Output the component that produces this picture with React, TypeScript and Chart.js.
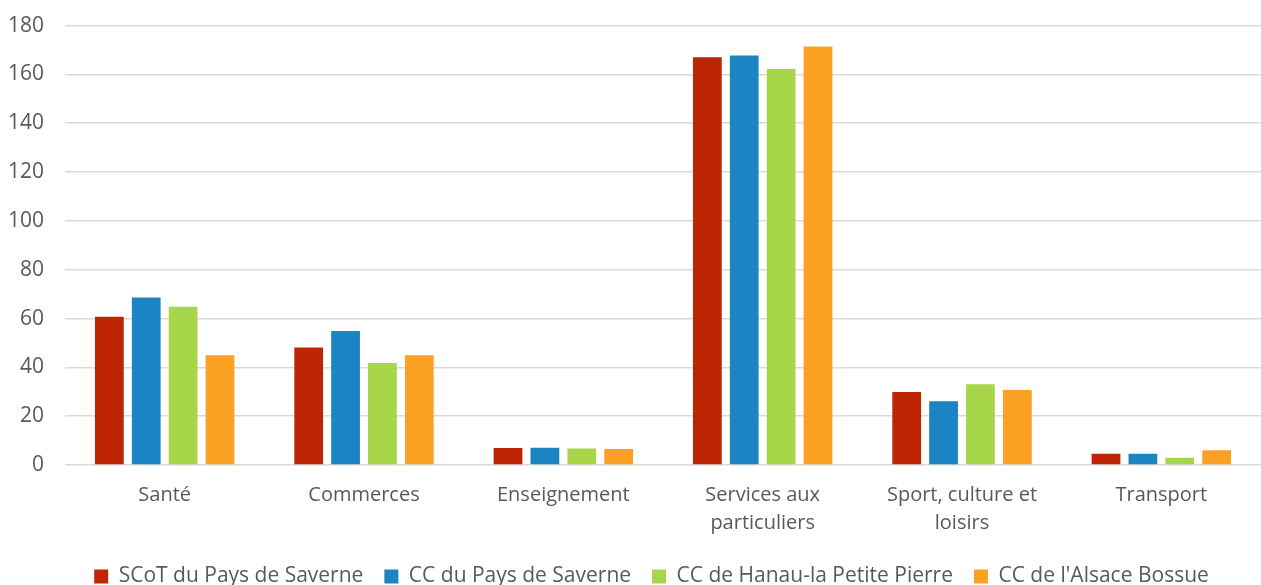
import React, { useEffect, useRef } from "react";
import { Chart, registerables } from "chart.js";

Chart.register(...registerables);

const categories: (string | string[])[] = [
  "Santé",
  "Commerces",
  "Enseignement",
  ["Services aux", "particuliers"],
  ["Sport, culture et", "loisirs"],
  "Transport",
];

const seriesNames = [
  "SCoT du Pays de Saverne",
  "CC du Pays de Saverne",
  "CC de Hanau-la Petite Pierre",
  "CC de l'Alsace Bossue",
];

const scotValues = [60.7, 48.1, 7.0, 167.0, 29.9, 4.6];
const ccSaverneValues = [68.6, 54.9, 7.1, 167.8, 26.1, 4.6];
const ccHanauValues = [64.8, 41.8, 6.8, 162.2, 33.1, 3.0];
const ccAlsaceValues = [45.0, 45.0, 6.6, 171.4, 30.7, 6.0];

const colors = ["#BE2504", "#1A85C2", "#A7D649", "#FDA125"];

const yTicks = { min: 0, max: 180, step: 20 };

const CANVAS_H = 605;
const CANVAS_TOP = -8;
const LEGEND_SHIFT = 18;

const legendShift = {
  id: "legendShift",
  afterLayout(chart: any) {
    if (chart.legend) {
      chart.legend.left += LEGEND_SHIFT;
      chart.legend.right += LEGEND_SHIFT;
    }
  },
};

export default function App() {
  const ref = useRef<HTMLCanvasElement>(null);
  useEffect(() => {
    if (!ref.current) return;
    const values = [scotValues, ccSaverneValues, ccHanauValues, ccAlsaceValues];
    const font = "'Open Sans', 'Noto Sans', sans-serif";
    const chart = new Chart(ref.current, {
      type: "bar",
      data: {
        labels: categories,
        datasets: values.map((v, i) => ({
          label: seriesNames[i],
          data: v,
          backgroundColor: colors[i],
          borderWidth: 0,
          barPercentage: 0.78,
          categoryPercentage: 0.74,
        })),
      },
      plugins: [legendShift],
      options: {
        animation: false,
        responsive: false,
        maintainAspectRatio: false,
        layout: { padding: { left: 6, right: 0, top: 5, bottom: 0 } },
        plugins: {
          tooltip: { enabled: false },
          legend: {
            position: "bottom",
            labels: {
              boxWidth: 14,
              boxHeight: 14,
              padding: 21,
              color: "#595959",
              font: { family: font, size: 21 },
            },
          },
        },
        scales: {
          x: {
            grid: { display: false },
            border: { display: false },
            ticks: {
              color: "#595959",
              font: { family: font, size: 20, lineHeight: 1.4 },
              padding: 8,
              maxRotation: 0,
              autoSkip: false,
            },
          },
          y: {
            min: yTicks.min,
            max: yTicks.max,
            afterFit: (s: any) => {
              s.width = 59;
            },
            ticks: {
              stepSize: yTicks.step,
              color: "#595959",
              font: { family: font, size: 21 },
              padding: 21,
            },
            grid: { color: "#d9d9d9", lineWidth: 1.5, drawTicks: false },
            border: { display: false },
          },
        },
      },
    });
    return () => chart.destroy();
  }, []);
  return (
    <div style={{ position: "fixed", left: 0, top: 0, width: 1261, height: 585, overflow: "hidden", background: "#fff" }}>
      <canvas ref={ref} width={1261} height={CANVAS_H} style={{ position: "absolute", left: 0, top: CANVAS_TOP }} />
    </div>
  );
}
